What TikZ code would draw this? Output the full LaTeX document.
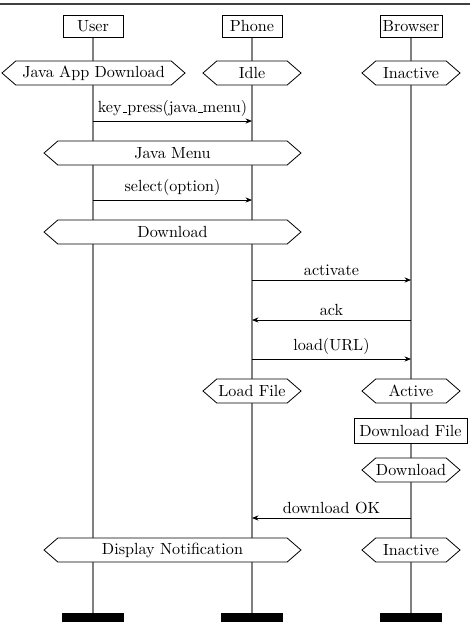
\documentclass[tikz,border=0pt]{standalone}
\usetikzlibrary{shapes.symbols,arrows.meta,backgrounds}
\newcommand{\lowbar}{\leavevmode\kern.06em\vbox{\hrule width.3em}}
\begin{document}
\begin{tikzpicture}[x=0.62pt,y=-0.62pt,
  inst/.style={draw, line width=0.5pt, fill=white, inner sep=0pt, minimum height=13.6pt},
  cond/.style={signal, signal to=west and east, signal pointer angle=82, draw, fill=white,
    line width=0.5pt, minimum height=14.9pt, inner sep=0pt},
  msg/.style={line width=0.5pt, -{Stealth[length=4pt,width=3.2pt,inset=1.3pt]}},
  lbl/.style={above, inner sep=2.5pt},
  life/.style={draw=gray, line width=0.9pt},
  endbar/.style={fill=black, inner sep=0pt, minimum width=38.4pt, minimum height=5.6pt}]
\useasboundingbox (0,0) rectangle (470,644);
% top rule
\coordinate (tl) at (0,4);
\coordinate (tr) at (470,4);
\draw[line width=0.7pt, black!75] (tl) -- (tr);
% instance heads
\node[inst, minimum width=37.2pt] (uh) at (93,26) {User};
\node[inst, minimum width=37.2pt] (ph) at (252,26) {Phone};
\node[inst, minimum width=38.4pt] (bh) at (411,26) {Browser};
% instance ends
\node[endbar] (ue) at (93,617.5) {};
\node[endbar] (pe) at (252,617.5) {};
\node[endbar] (be) at (411,617.5) {};
% conditions
\node[cond, minimum width=113.5pt] (c1) at (93.5,73) {Java App Download};
\node[cond, minimum width=60.8pt] (c2) at (252,73) {Idle};
\node[cond, minimum width=60.8pt] (c3) at (411,73) {Inactive};
\node[cond, minimum width=159.3pt] (c4) at (172.5,153) {Java Menu};
\node[cond, minimum width=159.3pt] (c5) at (172.5,232) {Download};
\node[cond, minimum width=60.8pt] (c6) at (252,391) {Load File};
\node[cond, minimum width=60.8pt] (c7) at (411,391) {Active};
\node[inst, minimum width=70pt, minimum height=15.5pt] (act) at (410.5,430.5) {Download File};
\node[cond, minimum width=60.8pt] (c8) at (411,470) {Download};
\node[cond, minimum width=159.3pt] (c9) at (172.5,550) {Display Notification};
\node[cond, minimum width=60.8pt] (c10) at (411,550) {Inactive};
% lifelines
\begin{scope}[on background layer]
\draw[life] (uh.south) -- (ue.north);
\draw[life] (ph.south) -- (pe.north);
\draw[life] (bh.south) -- (be.north);
\end{scope}
% messages
\coordinate (m1a) at (93,121);  \coordinate (m1b) at (252,121);
\coordinate (m2a) at (93,200);  \coordinate (m2b) at (252,200);
\coordinate (m3a) at (252,280); \coordinate (m3b) at (411,280);
\coordinate (m4a) at (411,320); \coordinate (m4b) at (252,320);
\coordinate (m5a) at (252,359); \coordinate (m5b) at (411,359);
\coordinate (m6a) at (411,518); \coordinate (m6b) at (252,518);
\draw[msg] (m1a) -- node[lbl] {key\lowbar press(java\lowbar menu)} (m1b);
\draw[msg] (m2a) -- node[lbl] {select(option)} (m2b);
\draw[msg] (m3a) -- node[lbl] {activate} (m3b);
\draw[msg] (m4a) -- node[lbl] {ack} (m4b);
\draw[msg] (m5a) -- node[lbl] {load(URL)} (m5b);
\draw[msg] (m6a) -- node[lbl] {download OK} (m6b);
\end{tikzpicture}
\end{document}
